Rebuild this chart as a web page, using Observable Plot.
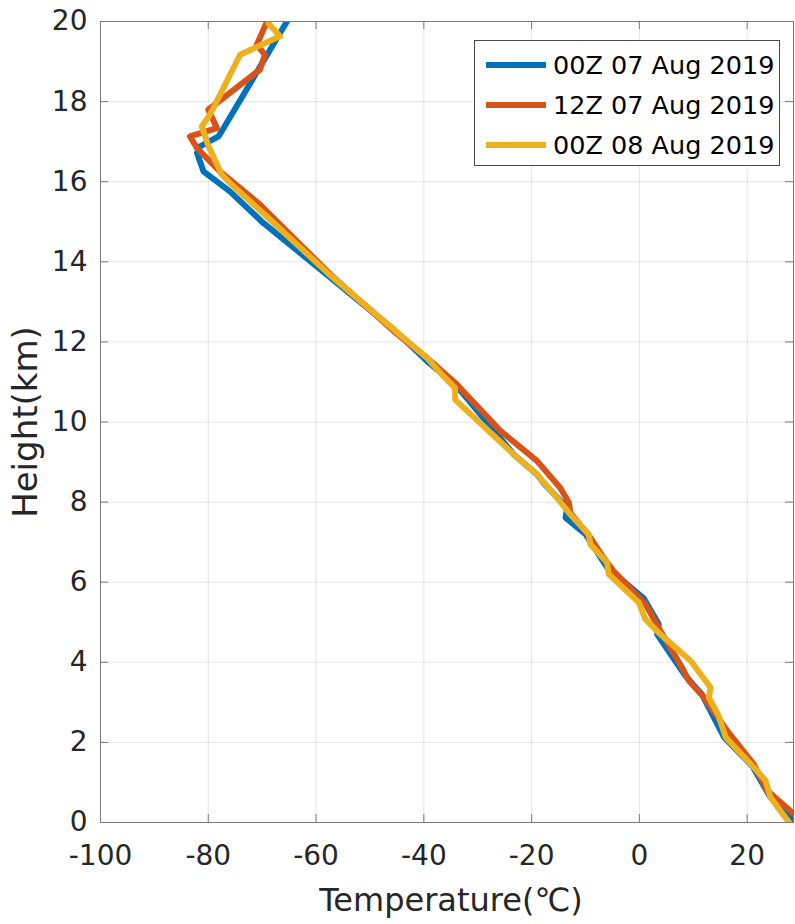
<!DOCTYPE html>
<html>
<head>
<meta charset="utf-8">
<script src="https://cdn.jsdelivr.net/npm/d3@7"></script>
<script src="https://cdn.jsdelivr.net/npm/@observablehq/plot@0.6"></script>
<style>
  html, body { margin: 0; padding: 0; background: #fff; }
  #wrap { position: relative; width: 795px; height: 924px; }
  #legend {
    position: absolute; left: 474px; top: 40px; width: 306px; height: 126px;
    border: 1px solid #4a4a4a; background: #fff; box-sizing: border-box;
    font-family: "DejaVu Sans", sans-serif; font-size: 25.5px; color: #000;
  }
  .row { position: absolute; left: 0; height: 40px; display: flex; align-items: center; }
  .swatch { width: 60px; height: 5.5px; margin-left: 11px; margin-right: 7px; }
</style>
</head>
<body>
<div id="wrap"><div id="legend"></div></div>
<script>
// Series names and colours
const seriesNames = ["00Z 07 Aug 2019", "12Z 07 Aug 2019", "00Z 08 Aug 2019"];
const seriesColors = ["#0072BD", "#D95319", "#EDB120"];

// Tick values
const xTicks = [-100, -80, -60, -40, -20, 0, 20];
const yTicks = [0, 2, 4, 6, 8, 10, 12, 14, 16, 18, 20];

// 00Z 07 Aug 2019 : height (km) and temperature (°C)
const h1 = [0.05, 0.46, 0.63, 1.4, 2.13, 3.2, 3.67, 4.7, 4.95, 5.6, 6.37, 7.2, 7.61, 7.86, 8.45, 8.69, 9.19, 10.9, 11.52, 12.3, 13.68, 14.97, 15.76, 16.26, 16.72, 16.88, 17.13, 17.26, 20.0];
const t1 = [28.6, 25.6, 24.3, 21.0, 15.7, 11.6, 8.5, 3.3, 3.6, 0.8, -6.0, -10.0, -13.7, -13.4, -17.6, -19.0, -23.3, -33.9, -39.4, -45.5, -58.0, -69.8, -76.0, -80.9, -82.1, -81.5, -78.1, -77.5, -65.4];

// 12Z 07 Aug 2019
const h2 = [0.15, 0.8, 1.46, 2.29, 3.12, 3.54, 3.87, 4.79, 5.46, 6.28, 6.66, 7.11, 7.73, 7.99, 8.36, 9.03, 9.78, 10.94, 11.6, 12.27, 13.68, 15.43, 16.25, 16.84, 17.13, 17.34, 17.8, 18.8, 19.17, 19.42, 20.0];
const t2 = [29.2, 23.7, 21.2, 16.3, 12.0, 9.2, 7.9, 3.9, 1.1, -4.8, -6.9, -9.1, -12.8, -13.1, -14.7, -19.0, -25.8, -33.9, -39.4, -45.6, -57.3, -70.4, -77.8, -82.1, -83.4, -78.4, -80.0, -70.4, -69.5, -71.0, -69.1];

// 00Z 08 Aug 2019
const h3 = [0.0, 0.63, 1.05, 1.38, 2.13, 2.67, 3.12, 3.37, 4.04, 4.7, 5.08, 5.49, 6.2, 6.49, 6.95, 7.2, 7.69, 8.11, 8.69, 9.19, 10.56, 10.85, 11.19, 11.6, 12.3, 13.68, 15.05, 15.97, 16.18, 16.9, 17.38, 17.67, 19.17, 19.63, 19.95];
const t3 = [27.8, 24.3, 23.4, 21.2, 16.0, 14.7, 12.9, 13.2, 9.5, 3.9, 1.1, -0.1, -5.7, -6.0, -9.1, -9.4, -12.8, -15.3, -19.0, -23.3, -34.2, -34.2, -36.7, -39.4, -45.5, -57.5, -68.5, -76.0, -77.5, -80.0, -81.2, -79.7, -74.1, -66.7, -68.8];

const heights = [h1, h2, h3];
const temps = [t1, t2, t3];
const rows = [];
seriesNames.forEach((name, i) => {
  heights[i].forEach((h, j) => rows.push({series: name, h, t: temps[i][j]}));
});

const axisGray = "#7a7a7a";
const frameW = 795 - 100 - 2;
const frameH = 924 - 21 - 102;
const tickLen = 8;

const chart = Plot.plot({
  width: 795,
  height: 924,
  marginLeft: 100,
  marginRight: 2,
  marginTop: 21,
  marginBottom: 102,
  style: {fontFamily: "DejaVu Sans, sans-serif", color: "#262626", background: "white"},
  x: {domain: [-100, 28.6]},
  y: {domain: [0, 20]},
  color: {domain: seriesNames, range: seriesColors},
  marks: [
    Plot.gridX(xTicks, {stroke: "#262626", strokeOpacity: 0.12}),
    Plot.gridY(yTicks, {stroke: "#262626", strokeOpacity: 0.12}),
    Plot.line(rows, {x: "t", y: "h", z: "series", stroke: "series", strokeWidth: 6, strokeLinejoin: "round", clip: true}),
    Plot.frame({stroke: axisGray}),
    Plot.tickX(xTicks, {x: d => d, insetTop: frameH - tickLen, stroke: axisGray}),
    Plot.tickX(xTicks, {x: d => d, insetBottom: frameH - tickLen, stroke: axisGray}),
    Plot.tickY(yTicks, {y: d => d, insetRight: frameW - tickLen, stroke: axisGray}),
    Plot.tickY(yTicks, {y: d => d, insetLeft: frameW - tickLen, stroke: axisGray}),
    Plot.axisX(xTicks, {tickSize: 0, tickPadding: 23, fontSize: 28, label: null, tickFormat: d => String(d)}),
    Plot.axisY(yTicks, {tickSize: 0, tickPadding: 13, fontSize: 28, label: null, tickFormat: d => String(d)}),
    Plot.text(["Temperature(℃)"], {frameAnchor: "bottom", dx: 4, dy: 78, fontSize: 32, textAnchor: "middle", lineAnchor: "middle", fill: "#262626"}),
    Plot.text(["Height(km)"], {frameAnchor: "left", dx: -74, rotate: -90, fontSize: 34, textAnchor: "middle", lineAnchor: "middle", fill: "#262626"})
  ]
});

document.getElementById("wrap").prepend(chart);

const legend = document.getElementById("legend");
seriesNames.forEach((name, i) => {
  const row = document.createElement("div");
  row.className = "row";
  row.style.top = (4 + i * 40) + "px";
  const sw = document.createElement("div");
  sw.className = "swatch";
  sw.style.background = seriesColors[i];
  const label = document.createElement("span");
  label.textContent = name;
  row.appendChild(sw);
  row.appendChild(label);
  legend.appendChild(row);
});
</script>
</body>
</html>
